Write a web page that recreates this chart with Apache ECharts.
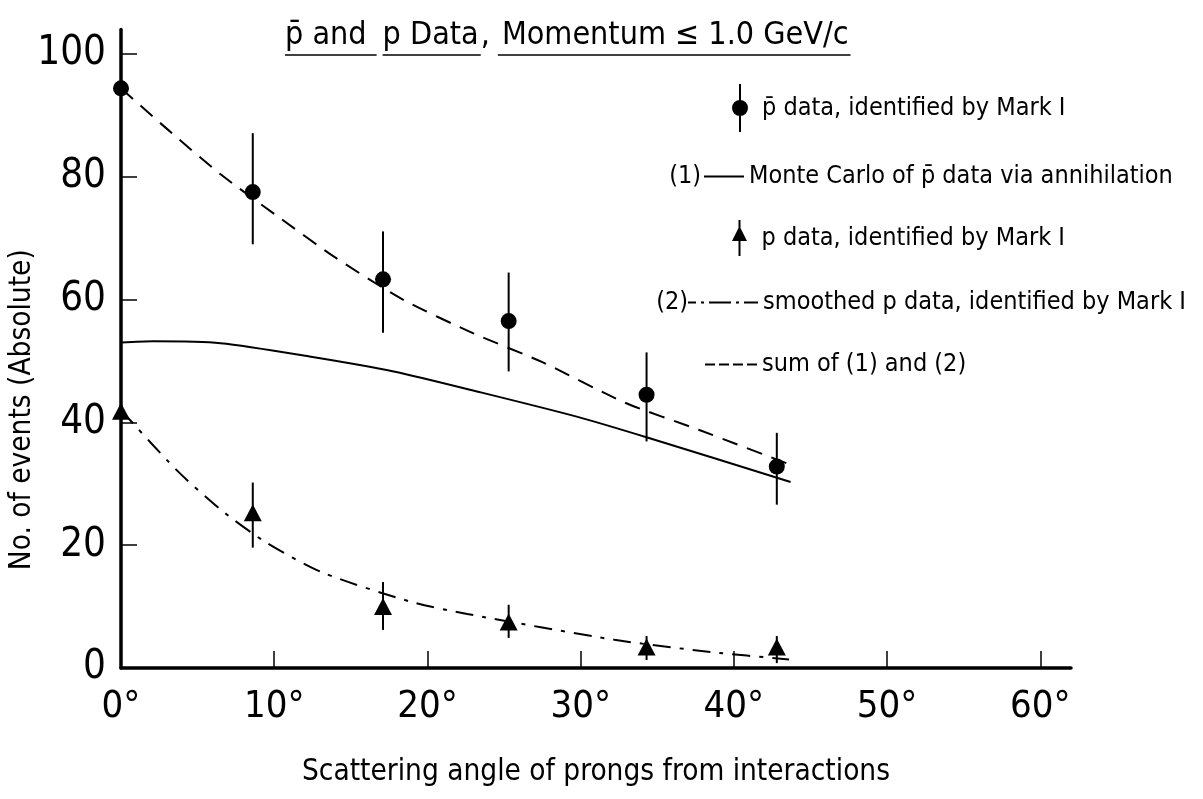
<!DOCTYPE html>
<html><head><meta charset="utf-8">
<script src="https://cdn.jsdelivr.net/npm/echarts@6/dist/echarts.min.js"></script>
<style>html,body{margin:0;padding:0;background:#fff}#c{width:1203px;height:799px}</style>
</head><body><div id="c"></div>
<script>
const FONT = "'DejaVu Sans Condensed','Liberation Sans Narrow','DejaVu Sans',sans-serif";

// ---- data ----
const xTicks = [0, 10, 20, 30, 40, 50, 60];
const yTicks = [0, 20, 40, 60, 80, 100];
const pbarAngle   = [0, 8.6, 17.1, 25.3, 34.3, 42.8];
const pbarEvents  = [94.4, 77.5, 63.3, 56.5, 44.5, 32.8];
const pbarErrLow  = [86.5, 69.0, 54.6, 48.3, 36.9, 26.6];
const pbarErrHigh = [103.5, 87.1, 71.1, 64.4, 51.4, 38.3];
const pAngle   = [0, 8.6, 17.1, 25.3, 34.3, 42.8];
const pEvents  = [41.8, 25.3, 10.0, 7.5, 3.4, 3.4];
const pErrLow  = [35.6, 19.6, 6.2, 4.9, 1.3, 0.8];
const pErrHigh = [48.3, 30.2, 14.0, 10.3, 5.2, 5.2];
const mcAngle  = [0, 2.1, 6.5, 12.4, 17.8, 23.3, 29.8, 34.4, 43.7];
const mcEvents = [53.0, 53.2, 52.9, 50.7, 48.3, 45.0, 40.9, 37.5, 30.3];
const smAngle  = [0, 3.6, 6.5, 9.5, 13.2, 18.9, 22.6, 32.2, 38.5, 43.6];
const smEvents = [42.0, 32.3, 25.8, 20.4, 15.5, 10.8, 8.8, 4.6, 2.6, 1.4];
const sumAngle  = [0, 3, 6.5, 10.2, 13.9, 18.4, 23, 27.5, 32.9, 37.7, 43.7];
const sumEvents = [94.4, 87.8, 80.4, 73.6, 67.0, 60.0, 54.5, 49.8, 43.2, 38.8, 33.1];

const N_PBAR = 'p\u0304 data, identified by Mark I';
const N_MC = 'Monte Carlo of p\u0304 data via annihilation';
const N_P = 'p data, identified by Mark I';
const N_SM = 'smoothed p data, identified by Mark I';
const N_SUM = 'sum of (1) and (2)';

const zip = (a, b) => a.map((v, i) => [v, b[i]]);
const zip3 = (a, b, c) => a.map((v, i) => [v, b[i], c[i]]);

function errBar(params, api) {
  const x = api.value(0);
  const lo = api.coord([x, api.value(1)]);
  const hi = api.coord([x, api.value(2)]);
  return { type: 'line', shape: { x1: lo[0], y1: lo[1], x2: hi[0], y2: hi[1] },
           style: { stroke: '#000', lineWidth: 2 } };
}

// ---- title with underlines ----
const ctx = document.createElement('canvas').getContext('2d');
function tw(s, size) { ctx.font = size + 'px ' + FONT; return ctx.measureText(s).width; }
const TS = 32, TY = 36, UY = 55;
const graphics = [];
let cx = 285;
function tText(s, x) {
  graphics.push({ type: 'text', x: x, y: TY, style: { text: s, font: TS + 'px ' + FONT, fill: '#000', verticalAlign: 'middle', align: 'left' } });
}
function uLine(x1, x2) {
  graphics.push({ type: 'line', shape: { x1: x1, y1: UY, x2: x2, y2: UY }, style: { stroke: '#000', lineWidth: 1.5 } });
}
const s1 = 'p\u0304 and', s2 = 'p Data', s3 = ',', s4 = 'Momentum \u2264 1.0 GeV/c';
let w = tw(s1, TS); tText(s1, cx); uLine(cx, cx + w + 10); cx += w + 16;
w = tw(s2, TS); tText(s2, cx); uLine(cx, cx + w + 2); cx += w + 2;
w = tw(s3, TS); tText(s3, cx); cx += w + 12;
w = tw(s4, TS); tText(s4, cx); uLine(cx - 4, cx + w + 2);

const LFS = 25;
graphics.push({ type: 'text', x: 701, y: 176, style: { text: '(1)', font: LFS + 'px ' + FONT, fill: '#000', align: 'right', verticalAlign: 'middle' } });
graphics.push({ type: 'text', x: 688, y: 302, style: { text: '(2)', font: LFS + 'px ' + FONT, fill: '#000', align: 'right', verticalAlign: 'middle' } });

const LT = { fontSize: LFS, fontFamily: FONT, color: '#000' };
function legend(name, icon, left, top, w, h, pad) {
  return { data: [{ name: name, icon: icon }], left: left, top: top, itemWidth: w, itemHeight: h, padding: 0,
           orient: 'vertical', selectedMode: false,
           textStyle: Object.assign({ padding: [0, 0, 0, pad || 0] }, LT) };
}
const ICON_CIRC = 'path://M7,0h2v48h-2z M0,24a8,8 0 1,1 16,0a8,8 0 1,1 -16,0z';
const ICON_TRI = 'path://M7,0h2v36h-2z M8,6L15.5,21L0.5,21z';
const ICON_SOLID = 'path://M0,0h40v2h-40z';
const ICON_DASHDOT = 'path://M0,0h8v2h-8z M13,0h3v2h-3z M21,0h22v2h-22z M48,0h3v2h-3z M56,0h14v2h-14z';
const ICON_DASH = 'path://M0,0h10v2h-10z M14,0h10v2h-10z M28,0h10v2h-10z M42,0h10v2h-10z';

const chart = echarts.init(document.getElementById('c'), null, { renderer: 'canvas' });
chart.setOption({
  animation: false,
  backgroundColor: '#fff',
  grid: { left: 121, right: 132, top: 29.4, bottom: 131, containLabel: false, outerBoundsMode: 'none' },
  xAxis: {
    type: 'value', min: 0, max: 62, interval: 10,
    splitLine: { show: false },
    axisLine: { lineStyle: { color: '#000', width: 3.5 } },
    axisTick: { inside: true, length: 17, lineStyle: { color: '#000', width: 1.5 }, customValues: xTicks },
    axisLabel: { customValues: xTicks, formatter: v => v + '\u00B0', fontSize: 38, fontFamily: FONT, color: '#000', margin: 20 },
    name: 'Scattering angle of prongs from interactions', nameLocation: 'middle', nameGap: 89,
    nameMoveOverlap: false,
    nameTextStyle: { fontSize: 29.5, fontFamily: FONT, color: '#000' }
  },
  yAxis: {
    type: 'value', min: 0, max: 104, interval: 20,
    splitLine: { show: false },
    axisLine: { show: true, lineStyle: { color: '#000', width: 3.5 } },
    axisTick: { show: true, inside: true, length: 16, lineStyle: { color: '#000', width: 1.5 }, customValues: yTicks },
    axisLabel: { customValues: yTicks, fontSize: 40, fontFamily: FONT, color: '#000', margin: 15 },
    name: 'No. of events (Absolute)', nameLocation: 'middle', nameGap: 84,
    nameMoveOverlap: false,
    nameTextStyle: { fontSize: 29.5, fontFamily: FONT, color: '#000', padding: [0, 122, 0, 0] }
  },
  legend: [
    legend(N_PBAR, ICON_CIRC, 732, 84, 16, 48, 9),
    legend(N_MC, ICON_SOLID, 704, 164, 40, 2, 0),
    legend(N_P, ICON_TRI, 732, 220, 16, 36, 9),
    legend(N_SM, ICON_DASHDOT, 688, 290, 70, 2, 0),
    legend(N_SUM, ICON_DASH, 705, 352, 52, 2, 0)
  ],
  graphic: graphics,
  series: [
    { name: N_MC, type: 'line', data: zip(mcAngle, mcEvents), smooth: 0.25, symbol: 'none',
      lineStyle: { color: '#000', width: 2, type: 'solid' }, itemStyle: { color: '#000' } },
    { name: N_SM, type: 'line', data: zip(smAngle, smEvents), smooth: 0.25, symbol: 'none',
      lineStyle: { color: '#000', width: 2, type: [18, 9, 4, 9] }, itemStyle: { color: '#000' } },
    { name: N_SUM, type: 'line', data: zip(sumAngle, sumEvents), smooth: 0.25, symbol: 'none',
      lineStyle: { color: '#000', width: 2, type: [16, 10] }, itemStyle: { color: '#000' } },
    { name: 'pbarErr', type: 'custom', data: zip3(pbarAngle, pbarErrLow, pbarErrHigh), renderItem: errBar,
      encode: { x: 0, y: [1, 2] }, clip: false, silent: true },
    { name: 'pErr', type: 'custom', data: zip3(pAngle, pErrLow, pErrHigh), renderItem: errBar,
      encode: { x: 0, y: [1, 2] }, clip: false, silent: true },
    { name: N_PBAR, type: 'scatter', data: zip(pbarAngle, pbarEvents), symbol: 'circle', symbolSize: 16,
      itemStyle: { color: '#000', opacity: 1 }, z: 5 },
    { name: N_P, type: 'scatter', data: zip(pAngle, pEvents), symbol: 'triangle', symbolSize: [18, 17],
      itemStyle: { color: '#000', opacity: 1 }, z: 5 }
  ]
});
</script>
</body></html>
